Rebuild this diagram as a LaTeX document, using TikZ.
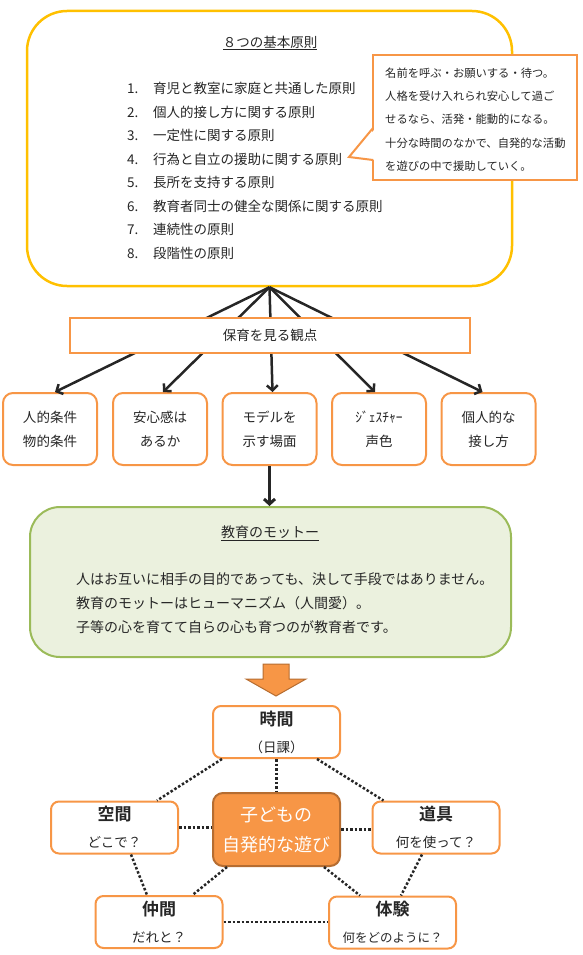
\documentclass[tikz,border=0pt]{standalone}
\usepackage{fontspec}
\setmainfont{Noto Sans CJK JP}[BoldFont={Noto Sans CJK JP Bold}]
\usepackage{tikz}
\usetikzlibrary{arrows.meta,positioning,calc}
\definecolor{gold}{HTML}{FFC000}
\definecolor{orange6}{HTML}{F79646}
\definecolor{darkorange6}{HTML}{B66D31}
\definecolor{olive3}{HTML}{9BBB59}
\definecolor{olivefill}{HTML}{EBF1DE}
\definecolor{ink}{HTML}{262626}

\begin{document}
\begin{tikzpicture}[x=1pt,y=-1pt,->,>={Straight Barb[length=5pt,width=11pt]},
	every node/.style={text=ink},
	rule box/.style={draw=gold, line width=2.5pt, rounded corners=40pt, minimum width=485pt, minimum height=275pt, inner sep=0pt},
	tip box/.style={draw=orange6, fill=white, line width=2pt, minimum width=204pt, minimum height=125pt, inner sep=0pt},
	view box/.style={draw=orange6, fill=white, line width=2pt, minimum width=400pt, minimum height=35pt, font=\fontsize{13.5}{16}\selectfont},
	main node/.style={draw=orange6, fill=white, line width=2pt, rounded corners=10pt, minimum width=94pt, minimum height=72pt, align=center, font=\fontsize{13.5}{24}\selectfont},
	motto box/.style={draw=olive3, fill=olivefill, line width=2pt, rounded corners=30pt, minimum width=481pt, minimum height=150pt},
	point box/.style={draw=orange6, fill=white, line width=2pt, rounded corners=8pt, minimum width=127pt, minimum height=52pt, align=center, font=\fontsize{13.5}{27}\selectfont},
	play box/.style={draw=darkorange6, fill=orange6, line width=2pt, rounded corners=10pt, minimum width=127pt, minimum height=73pt, align=center, text=white, font=\fontsize{18}{30}\selectfont},
	fan/.style={color=ink, line width=2.5pt},
	dot line/.style={-, color=ink, line width=2.5pt, dash pattern=on 2.5pt off 2pt},
	block arrow/.style={-, fill=orange6, draw=darkorange6, line width=1pt, line join=miter}]
				\useasboundingbox (0,0) rectangle (582,955);
				
				% principles
				\node[rule box] (rules) at (269.5,148.5) {};
				\node (rtitle) at (270,43) {\fontsize{13.5}{16}\selectfont\underline{８つの基本原則}};
				\node[anchor=west, inner sep=0pt, align=left, font=\fontsize{13.5}{23.5}\selectfont] (rlist) at (127,171) {%
					\makebox[26pt][l]{1.}育児と教室に家庭と共通した原則\\
					\makebox[26pt][l]{2.}個人的接し方に関する原則\\
					\makebox[26pt][l]{3.}一定性に関する原則\\
					\makebox[26pt][l]{4.}行為と自立の援助に関する原則\\
					\makebox[26pt][l]{5.}長所を支持する原則\\
					\makebox[26pt][l]{6.}教育者同士の健全な関係に関する原則\\
					\makebox[26pt][l]{7.}連続性の原則\\
					\makebox[26pt][l]{8.}段階性の原則};
				
				% callout
				\node[tip box] (tips) at (475,117.5) {};
				\coordinate (tiptip) at (349,157);
				\fill[white] ($(tips.west)+(4,10.5)$) -- (tiptip) -- ($(tips.west)+(4,42.5)$) -- cycle;
				\draw[-, draw=orange6, line width=2pt] ($(tips.west)+(1,10.5)$) -- (tiptip) -- ($(tips.west)+(1,42.5)$);
				\node[anchor=west, inner sep=0pt, align=left, font=\fontsize{11.3}{23.3}\selectfont] (tiptext) at (385,119.5) {%
					名前を呼ぶ・お願いする・待つ。\\
					人格を受け入れられ安心して過ご\\
					せるなら、活発・能動的になる。\\
					十分な時間のなかで、自発的な活動\\
					を遊びの中で援助していく。};
				
				% viewpoints
				\node[main node] (v1) at (50,429) {人的条件\\物的条件};
				\node[main node] (v2) at (160,429) {安心感は\\あるか};
				\node[main node] (v3) at (269.5,429) {モデルを\\示す場面};
				\node[main node] (v4) at (379,429) {ｼﾞｪｽﾁｬｰ\\声色};
				\node[main node] (v5) at (488.5,429) {個人的な\\接し方};
				
				\path[fan]
				(rules.south) edge ([xshift=5pt]v1.north)
				(rules.south) edge ([xshift=3pt]v2.north)
				(rules.south) edge ([xshift=3pt]v3.north)
				(rules.south) edge ([xshift=-4pt]v4.north)
				(rules.south) edge ([xshift=-6pt]v5.north);
				
				\node[view box] (view) at (270,335.5) {保育を見る観点};
				
				% motto
				\node[motto box] (motto) at (270.5,582) {};
				\node (mtitle) at (270,533) {\fontsize{14}{16}\selectfont\underline{教育のモットー}};
				\node[anchor=west, inner sep=0pt, align=left, font=\fontsize{14}{24}\selectfont] (mtext) at (76,603) {%
					人はお互いに相手の目的であっても、決して手段ではありません。\\
					教育のモットーはヒューマニズム（人間愛）。\\
					子等の心を育てて自らの心も育つのが教育者です。};
				
				\path[fan, line width=3pt] (v3.south) edge (v3.south |- motto.north);
				
				\draw[block arrow] (263,664) -- (289,664) -- (289,679) -- (306,679) -- (276,696) -- (246,679) -- (263,679) -- cycle;
				
				% play
				\node[point box] (time) at (276.5,732) {{\fontsize{17}{27}\selectfont\bfseries 時間}\\（日課）};
				\node[point box] (space) at (114.5,827.5) {{\fontsize{17}{27}\selectfont\bfseries 空間}\\どこで？};
				\node[point box] (tool) at (436,827.5) {{\fontsize{17}{27}\selectfont\bfseries 道具}\\何を使って？};
				\node[point box] (mate) at (159,922) {{\fontsize{17}{27}\selectfont\bfseries 仲間}\\だれと？};
				\node[point box] (exp) at (392.5,922.5) {{\fontsize{17}{27}\selectfont\bfseries 体験}\\{\fontsize{12.5}{27}\selectfont 何をどのように？}};
				\node[play box] (play) at (276.5,829.5) {子どもの\\自発的な遊び};
				
				\path[dot line]
				(time.south) edge (time.south |- play.north)
				($(time.south west)+(10,0)$) edge ($(space.north east)+(-22,0)$)
				($(time.south east)+(-24,0)$) edge ($(tool.north west)+(12,0)$)
				(space.east) edge (space.east -| play.west)
				(play.east) edge (play.east -| tool.west)
				($(space.south)+(16.5,0)$) edge ($(mate.north)+(-12,0)$)
				($(tool.south)+(-14,0)$) edge ($(exp.north)+(8.5,0)$)
				($(play.south west)+(15,0)$) edge ($(mate.north east)+(-31,0)$)
				($(play.south east)+(-17,0)$) edge ($(exp.north west)+(32,0)$)
				(mate.east) edge (mate.east -| exp.west);
				
\end{tikzpicture}
\end{document}
